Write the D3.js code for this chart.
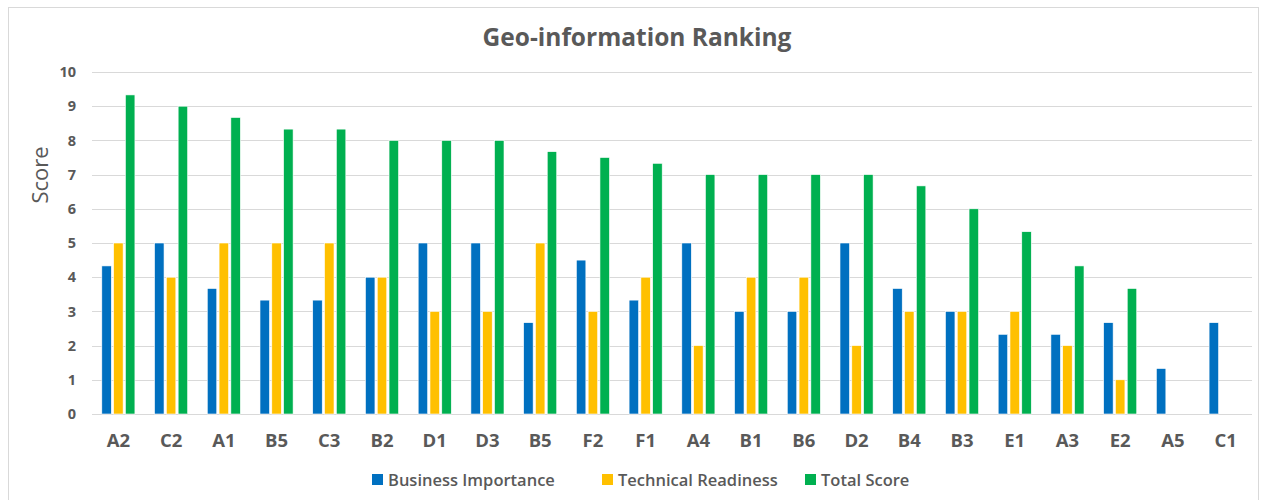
<!DOCTYPE html>
<html>
<head>
<meta charset="utf-8">
<script src="https://cdn.jsdelivr.net/npm/d3@7"></script>
<style>
  body { margin: 0; background: #fff; }
  text { font-family: "Open Sans", "Liberation Sans", sans-serif; fill: #595959; }
</style>
</head>
<body>
<script>
// chart data
var categories = ["A2","C2","A1","B5","C3","B2","D1","D3","B5","F2","F1","A4","B1","B6","D2","B4","B3","E1","A3","E2","A5","C1"];
var business = [4.33,5,3.67,3.33,3.33,4,5,5,2.67,4.5,3.33,5,3,3,5,3.67,3,2.33,2.33,2.67,1.33,2.67];
var technical = [5,4,5,5,5,4,3,3,5,3,4,2,4,4,2,3,3,3,2,1,0,0];
var total = [9.33,9,8.67,8.33,8.33,8,8,8,7.67,7.5,7.33,7,7,7,7,6.67,6,5.33,4.33,3.67,0,0];
var yTicks = [0,1,2,3,4,5,6,7,8,9,10];

var seriesNames = ["Business Importance","Technical Readiness","Total Score"];
var colors = ["#0070C0","#FFC000","#00B050"];
var series = [business, technical, total];

var width = 1272, height = 500;
var margin = {top: 72, right: 20, bottom: 86, left: 92};

var svg = d3.select("body").append("svg")
    .attr("width", width)
    .attr("height", height);

// chart border
svg.append("rect")
    .attr("x", 8.5).attr("y", 7.5)
    .attr("width", 1250).attr("height", 500)
    .attr("fill", "#fff")
    .attr("stroke", "#d9d9d9");

var x = d3.scaleBand()
    .domain(d3.range(categories.length))
    .range([margin.left, 1252]);

var y = d3.scaleLinear()
    .domain([0, 10])
    .range([414, margin.top]);

var barW = 9.5, gap = 2.3;

// gridlines
svg.append("g").selectAll("line")
    .data(yTicks)
    .enter().append("line")
    .attr("x1", margin.left).attr("x2", 1252)
    .attr("y1", function(d) { return Math.round(y(d)) + 0.5; })
    .attr("y2", function(d) { return Math.round(y(d)) + 0.5; })
    .attr("stroke", "#d9d9d9")
    .attr("stroke-width", 1);

// y axis labels
var yAxis = svg.append("g")
    .attr("transform", "translate(" + margin.left + ",0)")
    .call(d3.axisLeft(y).tickValues(yTicks).tickSize(0).tickPadding(16));
yAxis.select(".domain").remove();
yAxis.selectAll("text")
    .style("font-size", "14.5px")
    .style("font-weight", "bold")
    .style("font-family", "\"Open Sans\", sans-serif")
    .attr("fill", "#595959");

// x axis labels
var xAxis = svg.append("g")
    .attr("transform", "translate(0," + y(0) + ")")
    .call(d3.axisBottom(x).tickSize(0).tickPadding(20).tickFormat(function(i) { return categories[i]; }));
xAxis.select(".domain").remove();
xAxis.selectAll("text")
    .style("font-size", "18.5px")
    .style("font-weight", "bold")
    .style("font-family", "\"Open Sans\", sans-serif")
    .attr("fill", "#595959");

// bars
series.forEach(function(vals, s) {
  svg.append("g").selectAll("rect")
      .data(vals)
      .enter().append("rect")
      .attr("x", function(d, i) { return x(i) + x.bandwidth() / 2 - 1.5 * barW - gap + s * (barW + gap); })
      .attr("y", function(d) { return y(d); })
      .attr("width", barW)
      .attr("height", function(d) { return y(0) - y(d); })
      .attr("fill", colors[s])
      .attr("stroke", function(d) { return d > 0 ? "#fff" : "none"; })
      .attr("stroke-width", 0.6);
});

// title
svg.append("text")
    .attr("x", 637).attr("y", 46)
    .attr("text-anchor", "middle")
    .style("font-size", "24.5px")
    .style("font-weight", "bold")
    .text("Geo-information Ranking");

// y axis title
svg.append("text")
    .attr("transform", "translate(48,175) rotate(-90)")
    .attr("text-anchor", "middle")
    .style("font-size", "22px")
    .text("Score");

// legend
var legendX = [372, 602, 805];
var legend = svg.append("g").selectAll("g")
    .data(seriesNames)
    .enter().append("g")
    .attr("transform", function(d, i) { return "translate(" + legendX[i] + ",474)"; });
legend.append("rect")
    .attr("width", 11).attr("height", 11)
    .attr("fill", function(d, i) { return colors[i]; });
legend.append("text")
    .attr("x", 16).attr("y", 12)
    .style("font-size", "16.5px")
    .style("font-weight", "600")
    .text(function(d) { return d; });
</script>
</body>
</html>
